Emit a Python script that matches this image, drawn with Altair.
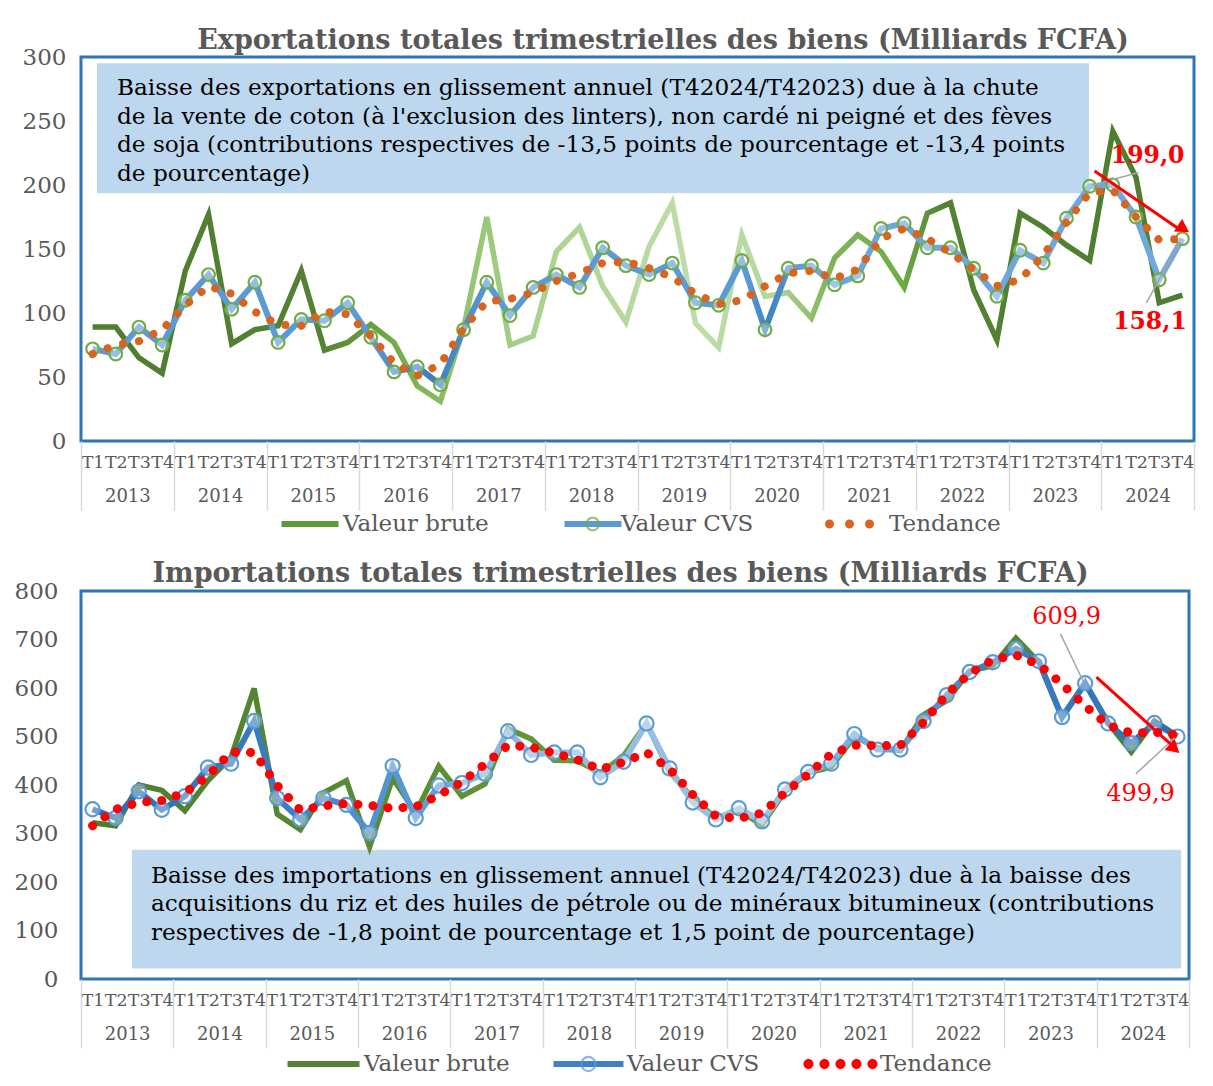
import altair as alt
import pandas as pd

# ---------------- data ----------------
years = [str(y) for y in range(2013, 2025)]
quarter_names = ["T1", "T2", "T3", "T4"]

exp_brute = [89, 89, 65, 53, 133, 177, 76, 87, 90, 133, 71, 77, 91, 77, 43, 31,
             88, 175, 75, 82, 148, 167, 121, 93, 152, 186, 92, 73, 161, 113, 116, 96,
             143, 161, 148, 120, 178, 186, 118, 79, 178, 167, 153, 141, 242, 206, 108, 114]
exp_cvs = [72, 68, 89, 75, 110, 130, 103, 124, 77, 95, 94, 108, 81, 54, 58, 44,
           87, 124, 98, 120, 130, 120, 151, 137, 130, 139, 108, 106, 141, 87, 135, 137,
           122, 129, 166, 170, 151, 151, 135, 113, 149, 139, 174, 199.0, 200, 175, 126, 158.1]
exp_tend = [68, 75, 78, 87, 106, 121, 115, 101, 91, 90, 101, 99, 82, 61, 51, 60,
            88, 109, 111, 116, 125, 131, 139, 140, 135, 128, 115, 107, 110, 121, 131, 133,
            127, 134, 158, 166, 158, 147, 134, 121, 126, 145, 171, 194, 196, 175, 157, 158]

imp_brute = [322, 316, 400, 389, 347, 409, 457, 599, 340, 308, 384, 409, 272, 414, 343, 439,
             377, 402, 516, 495, 451, 450, 425, 460, 527, 428, 372, 332, 347, 318, 387, 425,
             437, 500, 477, 471, 545, 574, 635, 646, 703, 653, 539, 610, 528, 468, 532, 501]
imp_cvs = [350, 332, 387, 349, 377, 436, 444, 532, 373, 329, 373, 359, 301, 439, 332, 399,
           404, 423, 511, 462, 467, 467, 416, 448, 527, 434, 364, 329, 352, 325, 391, 427,
           444, 505, 473, 473, 532, 585, 633, 653, 681, 655, 540, 609.9, 527, 486, 528, 499.9]
imp_tend = [316, 350, 364, 368, 384, 419, 468, 467, 399, 348, 357, 362, 358, 352, 355, 379,
            406, 443, 482, 478, 466, 452, 432, 447, 467, 433, 380, 336, 331, 342, 384, 422,
            464, 482, 481, 482, 529, 587, 630, 658, 668, 648, 608, 563, 523, 507, 509, 503]

series_names = ["Valeur brute", "Valeur CVS", "Tendance"]

exp_title = "Exportations totales trimestrielles des biens (Milliards FCFA)"
imp_title = "Importations totales trimestrielles des biens (Milliards FCFA)"

exp_note = ("Baisse des exportations en glissement annuel (T42024/T42023) due à la chute\n"
            "de la vente de coton  (à l'exclusion des linters), non cardé ni peigné et des fèves\n"
            "de soja (contributions respectives de -13,5 points de pourcentage et -13,4 points\n"
            "de pourcentage)")
imp_note = ("Baisse des importations en glissement annuel (T42024/T42023) due à la baisse des\n"
            "acquisitions du riz et des huiles de pétrole ou de minéraux bitumineux (contributions\n"
            "respectives de -1,8 point de pourcentage et 1,5 point de pourcentage)")

exp_labels = ["199,0", "158,1"]
imp_labels = ["609,9", "499,9"]

# ---------------- style ----------------
FONT = "DejaVu Serif"
GRAY = "#595959"
N = len(exp_brute)
BOX = 16  # legend symbol layout box (px)


def grad(stops):
    return alt.Gradient(gradient="linear", x1=0, x2=1, y1=0, y2=0,
                        stops=[alt.GradientStop(offset=o, color=c) for o, c in stops])


def make_df(brute, cvs, tend):
    return pd.DataFrame({"q": [i + 0.5 for i in range(len(brute))],
                         "brute": brute, "cvs": cvs, "tend": tend})


q_arr = "[" + ",".join("'%s'" % q for q in quarter_names) + "]"
y_arr = "[" + ",".join("'%s'" % y for y in years) + "]"


def line_path(length_px):
    u = length_px / BOX
    return "M%.4f,0L%.4f,0" % (-u, u)


def dots_path(centers_px, r_px):
    s = 2.0 / BOX
    out = []
    for c in centers_px:
        c, r = c * s, r_px * s
        out.append("M%.4f,0a%.4f,%.4f 0 1,0 %.4f,0a%.4f,%.4f 0 1,0 %.4f,0" %
                   (c - r, r, r, 2 * r, r, r, -2 * r))
    return " ".join(out)


def panel(df, ymax, ystep, title, title_dx, title_offset, width, height, ylab_pad,
          raw_grad, cvs_grad, ring_stroke, ring_fill, ring_size, trend_color, trend_w,
          trend_dash, box, note, note_pos, labels, label_pos, label_bold,
          leaders, arrow, head, head_angle, leg):
    xs = alt.Scale(domain=[0, N], nice=False, zero=False)
    ys = alt.Scale(domain=[0, ymax], nice=False, zero=True)
    ax_q = alt.Axis(orient="bottom", values=[i + 0.5 for i in range(N)],
                    labelExpr=q_arr + "[floor(datum.value) % 4]",
                    ticks=False, tickSize=0, domain=False, grid=False,
                    labelFont=FONT, labelFontSize=17.5, labelColor=GRAY,
                    labelPadding=12, labelOverlap=False, labelFlush=False,
                    labelBound=False, title=None)
    ax_y = alt.Axis(orient="bottom", values=[4 * k + 2 for k in range(len(years))],
                    labelExpr=y_arr + "[floor(datum.value / 4)]",
                    ticks=False, tickSize=0, domain=False, grid=False,
                    labelFont=FONT, labelFontSize=18, labelColor=GRAY,
                    labelPadding=46, labelOverlap=False, labelFlush=False,
                    title=None)
    ax_sep = alt.Axis(orient="bottom", values=[4 * k for k in range(len(years) + 1)],
                      labels=False, ticks=True, tickSize=69, tickColor="#D9D9D9",
                      tickWidth=1.5, domain=False, grid=False, title=None)
    ax_val = alt.Axis(values=list(range(0, ymax + 1, ystep)), ticks=False, tickSize=0,
                      domain=False, grid=False, labelFont=FONT, labelFontSize=23,
                      labelColor=GRAY, labelPadding=ylab_pad, title=None)

    base = alt.Chart(df)
    raw = base.mark_line(strokeWidth=5.5, color=raw_grad).encode(
        x=alt.X("q:Q", scale=xs, axis=ax_q),
        y=alt.Y("brute:Q", scale=ys, axis=ax_val))
    cvs = base.mark_line(strokeWidth=6, color=cvs_grad).encode(
        x=alt.X("q:Q", scale=xs, axis=ax_y),
        y=alt.Y("cvs:Q", scale=ys, axis=None))
    ring = base.mark_point(shape="circle", filled=False, size=ring_size,
                           stroke=ring_stroke, strokeWidth=2.2,
                           fill=ring_fill, fillOpacity=0.35, opacity=1).encode(
        x=alt.X("q:Q", scale=xs, axis=ax_sep),
        y=alt.Y("cvs:Q", scale=ys, axis=None))
    trend = base.mark_line(strokeWidth=trend_w, strokeCap="round",
                           strokeDash=trend_dash, color=trend_color).encode(
        x=alt.X("q:Q", scale=xs, axis=None),
        y=alt.Y("tend:Q", scale=ys, axis=None))

    box_df = pd.DataFrame({"x1": [box[0]], "x2": [box[1]], "y1": [box[2]], "y2": [box[3]]})
    box_l = alt.Chart(box_df).mark_rect(color="#BDD7EE").encode(
        x=alt.X("x1:Q", scale=xs, axis=None), x2="x2:Q",
        y=alt.Y("y1:Q", scale=ys, axis=None), y2="y2:Q")
    note_df = pd.DataFrame({"x": [note_pos[0]], "y": [note_pos[1]], "t": [note]})
    note_l = alt.Chart(note_df).mark_text(
        align="left", baseline="top", lineBreak="\n", lineHeight=28.5,
        font=FONT, fontSize=23.2, color="black").encode(
        x=alt.X("x:Q", scale=xs, axis=None), y=alt.Y("y:Q", scale=ys, axis=None),
        text="t:N")

    lead_df = pd.DataFrame({"x": [l[0] for l in leaders], "y": [l[1] for l in leaders],
                            "x2": [l[2] for l in leaders], "y2": [l[3] for l in leaders]})
    lead_l = alt.Chart(lead_df).mark_rule(color="#A6A6A6", strokeWidth=1.5).encode(
        x=alt.X("x:Q", scale=xs, axis=None), x2="x2:Q",
        y=alt.Y("y:Q", scale=ys, axis=None), y2="y2:Q")
    lab_df = pd.DataFrame({"x": [p[0] for p in label_pos], "y": [p[1] for p in label_pos],
                           "t": labels})
    lab_l = alt.Chart(lab_df).mark_text(
        font=FONT, fontSize=23.5 if label_bold else 24,
        fontWeight="bold" if label_bold else "normal",
        color="#FF0000", align="center", baseline="middle").encode(
        x=alt.X("x:Q", scale=xs, axis=None), y=alt.Y("y:Q", scale=ys, axis=None),
        text="t:N")
    arr_df = pd.DataFrame({"x": [arrow[0]], "y": [arrow[1]], "x2": [arrow[2]], "y2": [arrow[3]]})
    arr_l = alt.Chart(arr_df).mark_rule(color="#FF0000", strokeWidth=3).encode(
        x=alt.X("x:Q", scale=xs, axis=None), x2="x2:Q",
        y=alt.Y("y:Q", scale=ys, axis=None), y2="y2:Q")
    head_df = pd.DataFrame({"x": [head[0]], "y": [head[1]]})
    head_l = alt.Chart(head_df).mark_point(shape="triangle-up", filled=True, color="#FF0000",
                                           size=230, angle=head_angle, opacity=1).encode(
        x=alt.X("x:Q", scale=xs, axis=None), y=alt.Y("y:Q", scale=ys, axis=None))

    # legends (empty layers, explicit domains)
    def lc():
        return dict(orient="none", title=None, labelFont=FONT, labelFontSize=23,
                    labelColor=GRAY, direction="horizontal", legendY=leg["y"])

    lg_raw = base.transform_filter("false").mark_line(strokeWidth=6).encode(
        x=alt.X("q:Q", scale=xs, axis=None), y=alt.Y("brute:Q", scale=ys, axis=None),
        color=alt.Color("k1:N", scale=alt.Scale(domain=[series_names[0]], range=[leg["raw_color"]]),
                        legend=alt.Legend(legendX=leg["raw"][0],
                                          symbolType=line_path(leg["raw"][1]), symbolSize=BOX ** 2,
                                          symbolStrokeWidth=6, labelOffset=leg["raw"][2], **lc())))
    lg_cvs = base.transform_filter("false").mark_line(strokeWidth=6).encode(
        x=alt.X("q:Q", scale=xs, axis=None), y=alt.Y("cvs:Q", scale=ys, axis=None),
        color=alt.Color("k2:N", scale=alt.Scale(domain=[series_names[1]], range=[leg["cvs_color"]]),
                        legend=alt.Legend(legendX=leg["cvs"][0],
                                          symbolType=line_path(leg["cvs"][1]), symbolSize=BOX ** 2,
                                          symbolStrokeWidth=6, labelOffset=leg["cvs"][2], **lc())))
    lg_ring = base.transform_filter("false").mark_point(filled=False).encode(
        x=alt.X("q:Q", scale=xs, axis=None), y=alt.Y("cvs:Q", scale=ys, axis=None),
        color=alt.Color("k3:N", scale=alt.Scale(domain=["ring"], range=[ring_stroke]),
                        legend=alt.Legend(legendX=leg["ring"],
                                          symbolType="circle", symbolSize=ring_size,
                                          symbolStrokeWidth=2.2, labelExpr="' '", **lc())))
    lg_tr = base.transform_filter("false").mark_point(filled=True).encode(
        x=alt.X("q:Q", scale=xs, axis=None), y=alt.Y("tend:Q", scale=ys, axis=None),
        color=alt.Color("k4:N", scale=alt.Scale(domain=[series_names[2]], range=[trend_color]),
                        legend=alt.Legend(legendX=leg["tr"][0],
                                          symbolType=dots_path(leg["dots"], leg["dot_r"]),
                                          symbolSize=BOX ** 2,
                                          symbolStrokeWidth=0, symbolOpacity=1,
                                          labelOffset=leg["tr"][1], **lc())))

    layer = alt.layer(box_l, note_l, raw, cvs, ring, trend, lead_l, lab_l, arr_l, head_l,
                      lg_raw, lg_cvs, lg_ring, lg_tr)
    return layer.resolve_axis(x="independent", y="independent").resolve_scale(
        color="independent").properties(
        width=width, height=height,
        title=alt.TitleParams(title, font=FONT, fontSize=27, fontWeight="bold", color=GRAY,
                              anchor="middle", dx=title_dx, offset=title_offset,
                              baseline="alphabetic"))


exp_df = make_df(exp_brute, exp_cvs, exp_tend)
imp_df = make_df(imp_brute, imp_cvs, imp_tend)

top = panel(
    exp_df, 300, 50, exp_title, 25.5, -29.5, 1113, 384, 15,
    raw_grad=grad([(0, "#4E7D2F"), (0.21, "#548235"), (0.27, "#6FA844"), (0.33, "#8DC26A"),
                   (0.40, "#A9D18E"), (0.55, "#BFDDAB"), (0.62, "#B5D79C"), (0.68, "#7DB356"),
                   (0.74, "#70AD47"), (0.78, "#548235"), (1, "#4E7D2F")]),
    cvs_grad=grad([(0, "#5B9BD5"), (0.25, "#5B9BD5"), (0.31, "#3B7FC0"), (0.37, "#5B9BD5"),
                   (0.6, "#5B9BD5"), (0.62, "#3F82C2"), (0.66, "#6AA6DB"), (1, "#6FA8DC")]),
    ring_stroke="#70AD47", ring_fill="#FFFFFF", ring_size=160,
    trend_color="#D9641E", trend_w=8, trend_dash=[0.1, 16],
    box=(0.69, 43.47, 295.2, 193.6), note=exp_note, note_pos=(1.55, 284),
    labels=exp_labels, label_pos=[(46.0, 223), (46.1, 93)], label_bold=True,
    leaders=[(45.6, 209.8, 43.6, 199.8), (45.95, 107.9, 47.38, 155.5)],
    arrow=(43.71, 211, 47.4, 165), head=(47.55, 165.9), head_angle=122.7,
    leg=dict(y=455.5, raw=(217.5, 57, 21.5), raw_color="#5E9A3A",
             cvs=(500.5, 57, 16.5), cvs_color="#5B9BD5", ring=500.2,
             tr=(757, 28), dots=[-20, 0, 20], dot_r=4.5),
)

bottom = panel(
    imp_df, 800, 100, imp_title, -14.5, -28.5, 1108, 388, 23,
    raw_grad=grad([(0, "#4E7D2F"), (0.3, "#5A8E35"), (0.5, "#6A9E3E"), (0.75, "#5A8E35"),
                   (1, "#4E7D2F")]),
    cvs_grad=grad([(0, "#2E6DB4"), (0.17, "#3A7CC0"), (0.3, "#5B9BD5"), (0.36, "#8AB8E3"),
                   (0.62, "#9DC3E6"), (0.72, "#6FA8DC"), (0.82, "#3F80C3"), (1, "#2E6DB4")]),
    ring_stroke="#5B9BD5", ring_fill="#FFFFFF", ring_size=200,
    trend_color="#FF0000", trend_w=9, trend_dash=[0.1, 15],
    box=(2.21, 47.66, 266.7, 21.6), note=imp_note, note_pos=(3.03, 236),
    labels=imp_labels, label_pos=[(42.7, 746), (45.9, 382)], label_bold=False,
    leaders=[(42.43, 711.6, 43.42, 613.4), (45.7, 423, 47.37, 497)],
    arrow=(43.99, 622.5, 47.3, 480), head=(47.37, 474.8), head_angle=132,
    leg=dict(y=461.5, raw=(231, 72, 29), raw_color="#548235",
             cvs=(496, 70, 27), cvs_color="#3F80C3", ring=495.9,
             tr=(748, 28), dots=[-32, -16, 0, 16, 32], dot_r=5),
)

chart = alt.concat(top, bottom, columns=1, spacing=20).configure_view(
    stroke="#2E75B6", strokeWidth=3).properties(
    padding={"left": 4, "top": 17, "right": 0, "bottom": -2.5})

chart.save("out.html", embed_options={"renderer": "svg", "actions": False})
